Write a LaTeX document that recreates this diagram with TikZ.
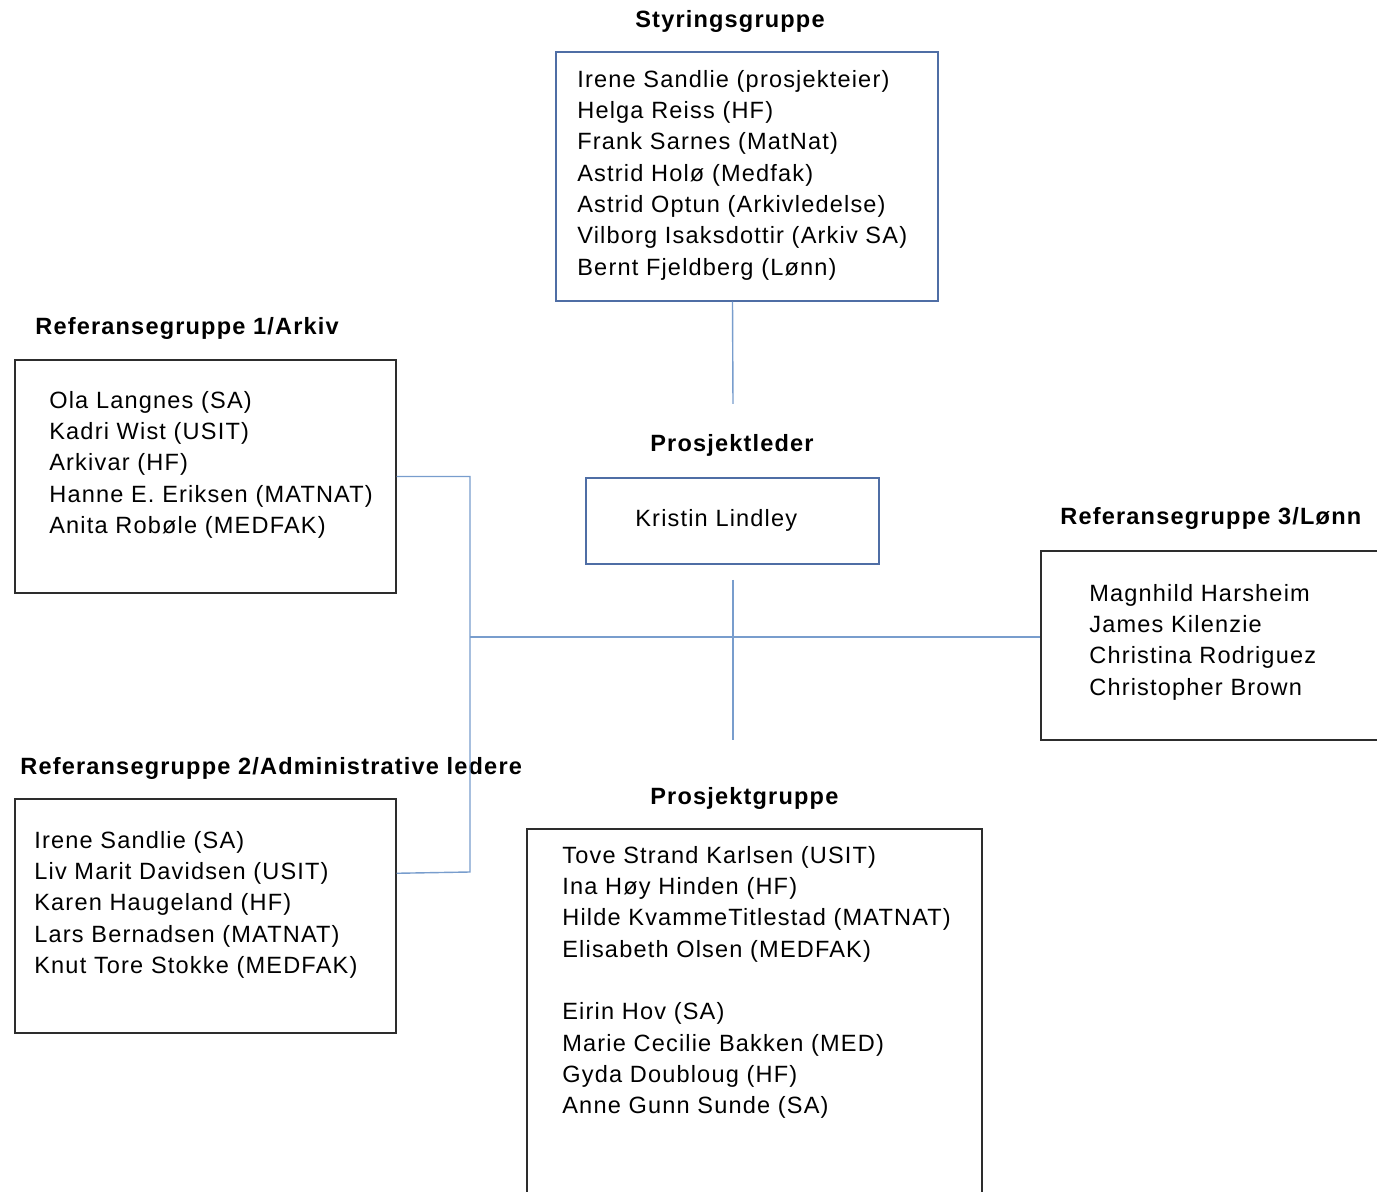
\documentclass[tikz,border=0pt]{standalone}
\usepackage{fontspec}
\setmainfont{Liberation Sans}[LetterSpace=5]
\usepackage{xcolor}
\usetikzlibrary{fit, positioning}
\definecolor{boxblue}{RGB}{79,110,165}
\definecolor{linkblue}{RGB}{120,157,205}
\definecolor{boxgray}{RGB}{45,45,45}

\begin{document}
\begin{tikzpicture}[
        x=0.02cm, y=-0.02cm,
        box/.style={rectangle, draw=boxgray, line width=0.8pt, inner sep=0pt},
        bluebox/.style={box, draw=boxblue},
        title/.style={anchor=base west, inner sep=0pt, font=\fontsize{13.4}{17.8}\selectfont\bfseries},
        list/.style={anchor=north west, inner sep=0pt, align=left, font=\fontsize{13.4}{17.8}\selectfont, execute at begin node=\strut},
        link/.style={draw=linkblue, line width=0.8pt}
    ]
        \useasboundingbox (0,0) rectangle (1377,1192);
        \clip (0,0) rectangle (1377,1192);

        % Styringsgruppe
        \node[title] (styrtitle) at (635,28) {Styringsgruppe};
        \node[bluebox, fit={(556,52) (938,301)}] (styr) {};
        \node[list] (styrlist) at (577,70) {Irene Sandlie (prosjekteier)\\Helga Reiss (HF)\\Frank Sarnes (MatNat)\\Astrid Holø (Medfak)\\Astrid Optun (Arkivledelse)\\Vilborg Isaksdottir (Arkiv SA)\\Bernt Fjeldberg (Lønn)};

        % Prosjektleder
        \node[title] (pltitle) at (650,452) {Prosjektleder};
        \node[bluebox, fit={(586,478) (879,564)}] (pl) {};
        \node[list] (pllist) at (635,504) {Kristin Lindley};

        % Referansegruppe 1
        \node[title] (ref1title) at (35,335) {Referansegruppe 1/Arkiv};
        \node[box, fit={(15,360) (396,593)}] (ref1) {};
        \node[list] (ref1list) at (49,391) {Ola Langnes (SA)\\Kadri Wist (USIT)\\Arkivar (HF)\\Hanne E. Eriksen (MATNAT)\\Anita Robøle (MEDFAK)};

        % Referansegruppe 2
        \node[title] (ref2title) at (20,775) {Referansegruppe 2/Administrative ledere};
        \node[box, fit={(15,799) (396,1033)}] (ref2) {};
        \node[list] (ref2list) at (34,831) {Irene Sandlie (SA)\\Liv Marit Davidsen (USIT)\\Karen Haugeland (HF)\\Lars Bernadsen (MATNAT)\\Knut Tore Stokke (MEDFAK)};

        % Referansegruppe 3
        \node[title] (ref3title) at (1060,525) {Referansegruppe 3/Lønn};
        \node[box, fit={(1041,551) (1400,740)}] (ref3) {};
        \node[list] (ref3list) at (1089,584) {Magnhild Harsheim\\James Kilenzie\\Christina Rodriguez\\Christopher Brown};

        % Prosjektgruppe
        \node[title] (pgtitle) at (650,805) {Prosjektgruppe};
        \node[box, fit={(527,829) (982,1210)}] (pg) {};
        \node[list] (pglist) at (562,846) {Tove Strand Karlsen (USIT)\\Ina Høy Hinden (HF)\\Hilde KvammeTitlestad (MATNAT)\\Elisabeth Olsen (MEDFAK)\\[\baselineskip]Eirin Hov (SA)\\Marie Cecilie Bakken (MED)\\Gyda Doubloug (HF)\\Anne Gunn Sunde (SA)};

        % connectors
        \coordinate (topend) at (733,404);
        \coordinate (midtop) at (733,580);
        \coordinate (midbot) at (733,740);
        \coordinate (hub) at (470,637);
        \draw[link] (pl.north |- styr.south) -- (topend);
        \draw[link] (midtop) -- (midbot);
        \draw[link] (hub) -- (ref3.west |- hub);
        \draw[link] (ref1.east) -| (hub) -- (hub |- 0,872) -- ([yshift=-1.5cm]ref2.north east);
    \end{tikzpicture}
\end{document}
